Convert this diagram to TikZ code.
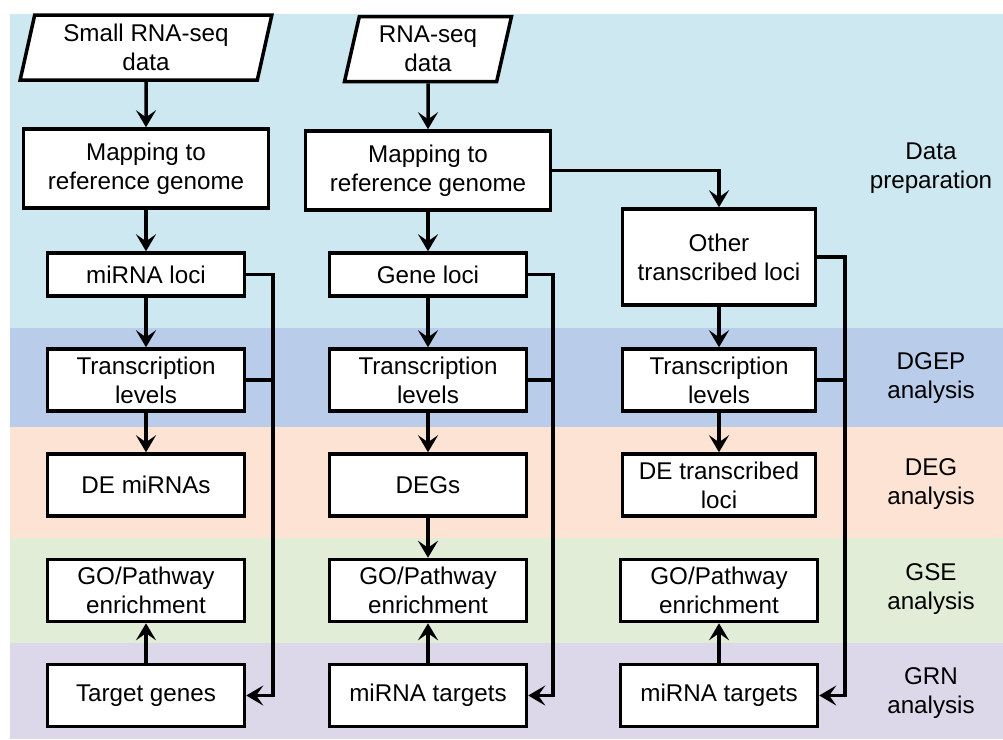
\documentclass[tikz,border=0pt]{standalone}
\usepackage{fontspec}
\setmainfont{Liberation Sans}
\usetikzlibrary{shapes.geometric,arrows.meta}
\definecolor{prepblue}{HTML}{CDE8F0}
\definecolor{dgepblue}{HTML}{B9CDEA}
\definecolor{degpeach}{HTML}{FDE3D3}
\definecolor{gsegreen}{HTML}{E2EDD8}
\definecolor{grnpurple}{HTML}{DDD8E9}

\begin{document}
\begin{tikzpicture}[x=1pt,y=-1pt,
    every node/.style={font=\fontsize{24.2}{29}\selectfont},
    procbox/.style={draw, fill=white, line width=3.5pt, align=center, inner sep=0pt,
        minimum width=197pt, minimum height=62pt},
    databox/.style={trapezium, draw, fill=white, line width=3.5pt, align=center, inner sep=0pt,
        trapezium left angle=77, trapezium right angle=103, trapezium stretches=true,
        minimum height=65pt},
    flow/.style={line width=3.5pt, -{Stealth[length=17pt,width=20pt,inset=7pt]}},
    link/.style={line width=3.5pt},
    phaselabel/.style={align=center}]
    \useasboundingbox (0,0) rectangle (1003,739);

    % bands
    \fill[prepblue] (10,14) rectangle (1003,328);
    \fill[dgepblue] (10,328) rectangle (1003,427);
    \fill[degpeach] (10,427) rectangle (1003,538);
    \fill[gsegreen] (10,538) rectangle (1003,643);
    \fill[grnpurple] (10,643) rectangle (1003,739);

    % small RNA-seq column
    \node[databox, minimum width=252pt] (srna) at (146,47.5) {Small RNA-seq\\data};
    \node[procbox, minimum height=79pt, minimum width=245pt] (map1) at (146,168.5) {Mapping to\\reference genome};
    \node[procbox, minimum height=43pt] (loci1) at (146,274.5) {miRNA loci};
    \node[procbox] (trans1) at (146,380) {Transcription\\levels};
    \node[procbox] (de1) at (146,485) {DE miRNAs};
    \node[procbox] (go1) at (146,590.5) {GO/Pathway\\enrichment};
    \node[procbox] (tgt1) at (146,695.5) {Target genes};

    % RNA-seq column
    \node[databox, minimum width=167pt] (rna) at (428,49) {RNA-seq\\data};
    \node[procbox, minimum height=79pt, minimum width=245pt] (map2) at (428,170.5) {Mapping to\\reference genome};
    \node[procbox, minimum height=43pt] (loci2) at (428,274.5) {Gene loci};
    \node[procbox] (trans2) at (428,380) {Transcription\\levels};
    \node[procbox] (de2) at (428,485) {DEGs};
    \node[procbox] (go2) at (428,590.5) {GO/Pathway\\enrichment};
    \node[procbox] (tgt2) at (428,695.5) {miRNA targets};

    % other loci column
    \node[procbox, minimum height=96pt, minimum width=193pt] (loci3) at (719,257) {Other\\transcribed loci};
    \node[procbox, minimum width=193pt] (trans3) at (719,380) {Transcription\\levels};
    \node[procbox, minimum width=193pt] (de3) at (719,485) {DE transcribed\\loci};
    \node[procbox] (go3) at (719,590.5) {GO/Pathway\\enrichment};
    \node[procbox] (tgt3) at (719,695.5) {miRNA targets};

    % phases
    \node[phaselabel] (prep) at (931,168) {Data\\preparation};
    \node[phaselabel] (dgep) at (931,378) {DGEP\\analysis};
    \node[phaselabel] (deg) at (931,484) {DEG\\analysis};
    \node[phaselabel] (gse) at (931,589) {GSE\\analysis};
    \node[phaselabel] (grn) at (931,693) {GRN\\analysis};

    \coordinate (bus1) at (273,0);
    \coordinate (bus2) at (553,0);
    \coordinate (bus3) at (845,0);

    \draw[flow] (srna) -- (map1);
    \draw[flow] (map1) -- (loci1);
    \draw[flow] (loci1) -- (trans1);
    \draw[flow] (trans1) -- (de1);
    \draw[flow] (tgt1) -- (go1);
    \draw[flow] (loci1.east) -- (loci1.east -| bus1) |- (tgt1.east);
    \draw[link] (trans1.east) -- (trans1.east -| bus1);

    \draw[flow] (rna) -- (map2);
    \draw[flow] (map2) -- (loci2);
    \draw[flow] (loci2) -- (trans2);
    \draw[flow] (trans2) -- (de2);
    \draw[flow] (de2) -- (go2);
    \draw[flow] (tgt2) -- (go2);
    \draw[flow] (loci2.east) -- (loci2.east -| bus2) |- (tgt2.east);
    \draw[link] (trans2.east) -- (trans2.east -| bus2);

    \draw[flow] (map2.east) -| (loci3.north);
    \draw[flow] (loci3) -- (trans3);
    \draw[flow] (trans3) -- (de3);
    \draw[flow] (tgt3) -- (go3);
    \draw[flow] (loci3.east) -- (loci3.east -| bus3) |- (tgt3.east);
    \draw[link] (trans3.east) -- (trans3.east -| bus3);
\end{tikzpicture}
\end{document}
